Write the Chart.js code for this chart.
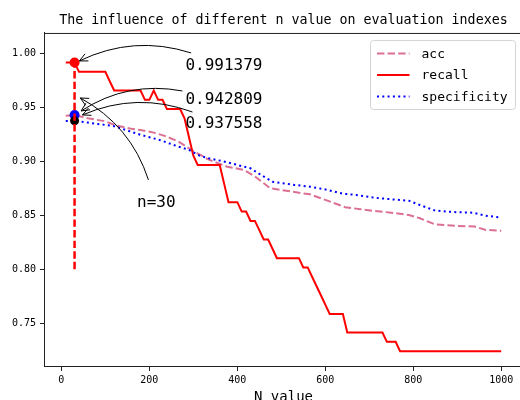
<!DOCTYPE html>
<html><head><meta charset="utf-8">
<script src="https://cdn.jsdelivr.net/npm/chart.js@4"></script>
<style>
html,body{margin:0;padding:0;background:#fff;overflow:hidden;}
#wrap{width:530px;height:400px;}
</style></head><body>
<div id="wrap"><canvas id="c" width="530" height="400"></canvas></div>
<script>
const titleText = 'The influence of different n value on evaluation indexes';
const xLabel = 'N value';
const xTicks = [0, 200, 400, 600, 800, 1000];
const yTicks = [0.75, 0.80, 0.85, 0.90, 0.95, 1.00];

const accN = [10,30,60,100,125,160,180,210,235,265,290,300,335,377,415,440,475,515,545,565,605,645,680,710,750,790,815,850,900,940,965,1000];
const accValues = [0.9422,0.9428,0.9398,0.9370,0.9330,0.9300,0.9290,0.9265,0.9235,0.9185,0.9120,0.9095,0.9015,0.8950,0.8920,0.8860,0.8750,0.8725,0.8704,0.8694,0.8635,0.8575,0.8556,0.8540,0.8524,0.8503,0.8472,0.8415,0.8401,0.8395,0.8364,0.8357];

const recallN = [10,30,40,100,110,120,180,190,200,210,220,230,240,270,280,290,300,310,360,370,380,400,410,420,430,440,450,460,470,480,490,540,550,560,570,580,590,600,610,640,650,730,740,760,770,1000];
const recallValues = [0.9914,0.9914,0.9828,0.9828,0.9741,0.9655,0.9655,0.9569,0.9569,0.9655,0.9569,0.9569,0.9483,0.9483,0.9397,0.9224,0.9052,0.8966,0.8966,0.8793,0.8621,0.8621,0.8534,0.8534,0.8448,0.8448,0.8362,0.8276,0.8276,0.8190,0.8103,0.8103,0.8017,0.8017,0.7931,0.7845,0.7759,0.7672,0.7586,0.7586,0.7414,0.7414,0.7328,0.7328,0.7241,0.7241];

const specN = [10,30,60,120,150,180,225,263,290,315,335,375,415,430,455,480,530,565,605,640,670,710,750,790,815,850,900,935,965,1000];
const specValues = [0.9373,0.9376,0.9358,0.9325,0.9285,0.9245,0.9195,0.9140,0.9105,0.9050,0.9028,0.8993,0.8950,0.8935,0.8870,0.8810,0.8781,0.8765,0.8735,0.8700,0.8688,0.8663,0.8648,0.8635,0.8595,0.8543,0.8528,0.8524,0.8496,0.8478];

const bestN = 30;
const bestRecall = 0.991379;
const bestAcc = 0.942809;
const bestSpec = 0.937558;
const markerLineBottom = 0.80;

const annoLabels = ['0.991379', '0.942809', '0.937558', 'n=30'];
const annoTextN = [282, 282, 282, 172];
const annoTextV = [0.9845, 0.9531, 0.9306, 0.858];
const annoStartN = [295, 275, 298, 198];
const annoStartV = [1.0003, 0.9651, 0.9456, 0.8827];
const annoEndN = [41, 45, 48, 43];
const annoEndV = [0.9929, 0.9466, 0.9429, 0.9586];

const MONO = '"DejaVu Sans Mono", "Liberation Mono", monospace';
const pts = (xs, ys) => xs.map((x, i) => ({x: x, y: ys[i]}));

const decor = {
  id: 'decor',
  afterDatasetsDraw(chart) {
    const ctx = chart.ctx, xs = chart.scales.x, ys = chart.scales.y;
    ctx.save();
    ctx.strokeStyle = '#000'; ctx.fillStyle = '#000'; ctx.lineWidth = 1;
    for (let i = 0; i < annoLabels.length; i++) {
      const sx = xs.getPixelForValue(annoStartN[i]), sy = ys.getPixelForValue(annoStartV[i]);
      const ex = xs.getPixelForValue(annoEndN[i]), ey = ys.getPixelForValue(annoEndV[i]);
      const dx = ex - sx, dy = ey - sy, rad = 0.2;
      const cx = (sx + ex) / 2 - rad * dy, cy = (sy + ey) / 2 + rad * dx;
      ctx.beginPath(); ctx.moveTo(sx, sy); ctx.quadraticCurveTo(cx, cy, ex, ey); ctx.stroke();
      const ang = Math.atan2(ey - cy, ex - cx), L = 9, a = 0.45;
      ctx.beginPath();
      ctx.moveTo(ex - L * Math.cos(ang - a), ey - L * Math.sin(ang - a));
      ctx.lineTo(ex, ey);
      ctx.lineTo(ex - L * Math.cos(ang + a), ey - L * Math.sin(ang + a));
      ctx.stroke();
      ctx.font = '16px ' + MONO; ctx.textBaseline = 'alphabetic'; ctx.textAlign = 'left';
      ctx.fillText(annoLabels[i], xs.getPixelForValue(annoTextN[i]), ys.getPixelForValue(annoTextV[i]));
    }
    ctx.restore();
  },
  afterDraw(chart) {
    const ctx = chart.ctx, ca = chart.chartArea;
    ctx.save();
    ctx.strokeStyle = '#222'; ctx.lineWidth = 1;
    ctx.beginPath();
    ctx.moveTo(ca.left, ca.top + 0.5); ctx.lineTo(ca.right, ca.top + 0.5);
    ctx.moveTo(ca.right - 0.5, ca.top); ctx.lineTo(ca.right - 0.5, ca.bottom);
    ctx.stroke();
    // legend
    const bx = ca.right - 152.5, by = ca.top + 7.5, bw = 145, bh = 69, r = 3;
    ctx.beginPath();
    ctx.moveTo(bx + r, by); ctx.lineTo(bx + bw - r, by); ctx.arcTo(bx + bw, by, bx + bw, by + r, r);
    ctx.lineTo(bx + bw, by + bh - r); ctx.arcTo(bx + bw, by + bh, bx + bw - r, by + bh, r);
    ctx.lineTo(bx + r, by + bh); ctx.arcTo(bx, by + bh, bx, by + bh - r, r);
    ctx.lineTo(bx, by + r); ctx.arcTo(bx, by, bx + r, by, r); ctx.closePath();
    ctx.fillStyle = 'rgba(255,255,255,0.85)'; ctx.fill();
    ctx.strokeStyle = '#d4d4d4'; ctx.stroke();
    const items = chart.data.datasets.filter(d => d.inLegend);
    items.forEach((d, i) => {
      const yy = by + 13 + i * 21.5;
      ctx.beginPath();
      ctx.strokeStyle = d.borderColor; ctx.lineWidth = d.borderWidth;
      ctx.setLineDash(d.borderDash || []);
      ctx.moveTo(bx + 6.5, yy); ctx.lineTo(bx + 39, yy); ctx.stroke();
      ctx.setLineDash([]);
      ctx.fillStyle = '#000'; ctx.font = '13px ' + MONO; ctx.textBaseline = 'alphabetic';
      ctx.fillText(d.label, bx + 51, yy + 4.5);
    });
    ctx.restore();
  }
};

new Chart(document.getElementById('c'), {
  type: 'line',
  data: {
    datasets: [
      {label: 'red dot', data: [{x: bestN, y: bestRecall}], showLine: false, pointRadius: 5, pointBackgroundColor: '#ff0000', pointBorderWidth: 0, borderColor: '#ff0000', order: 0},
      {label: 'n line', data: [{x: bestN, y: markerLineBottom}, {x: bestN, y: bestRecall}], borderColor: '#ff0000', borderWidth: 2.5, borderDash: [7.4, 3.2], pointRadius: 0, order: 1},
      {label: 'spec dot', data: [{x: bestN, y: bestSpec}], showLine: false, pointRadius: 4.5, pointBackgroundColor: '#000000', pointBorderWidth: 0, borderColor: '#000', order: 2},
      {label: 'acc dot', data: [{x: bestN, y: bestAcc}], showLine: false, pointRadius: 5, pointBackgroundColor: '#0000ff', pointBorderWidth: 0, borderColor: '#00f', order: 3},
      {label: 'acc', inLegend: true, data: pts(accN, accValues), borderColor: '#db7093', borderWidth: 2, borderDash: [7.4, 3.2], pointRadius: 0, tension: 0, order: 6},
      {label: 'recall', inLegend: true, data: pts(recallN, recallValues), borderColor: '#ff0000', borderWidth: 2, pointRadius: 0, tension: 0, order: 5},
      {label: 'specificity', inLegend: true, data: pts(specN, specValues), borderColor: '#0000ff', borderWidth: 2, borderDash: [2, 3.3], pointRadius: 0, tension: 0, order: 4}
    ]
  },
  options: {
    responsive: false,
    animation: false,
    events: [],
    layout: {padding: {left: 0, right: 7, top: 0, bottom: 0}},
    plugins: {
      legend: {display: false},
      tooltip: {enabled: false},
      title: {
        display: true, text: titleText, fullSize: false, color: '#000',
        font: {family: MONO, size: 13.3, weight: 'normal', lineHeight: 1.2},
        padding: {top: 13, bottom: 4}
      }
    },
    scales: {
      x: {
        type: 'linear', min: -39.5, max: 1049.5,
        afterFit: s => { s.height = 33; },
        afterBuildTicks: s => { s.ticks = xTicks.map(v => ({value: v})); },
        grid: {drawOnChartArea: false, drawTicks: true, tickLength: 4, tickColor: '#222'},
        border: {display: true, color: '#222', width: 1},
        ticks: {color: '#000', font: {family: MONO, size: 10}, padding: 3, maxRotation: 0, autoSkip: false, callback: v => String(v)},
        title: {display: true, text: xLabel, color: '#000', font: {family: MONO, size: 14, lineHeight: 0.75}, padding: {top: 0, bottom: -3}}
      },
      y: {
        type: 'linear', min: 0.7095, max: 1.0188,
        afterFit: s => { s.width = 44; },
        afterBuildTicks: s => { s.ticks = yTicks.map(v => ({value: v})); },
        grid: {drawOnChartArea: false, drawTicks: true, tickLength: 4, tickColor: '#222'},
        border: {display: true, color: '#222', width: 1},
        ticks: {color: '#000', font: {family: MONO, size: 10}, padding: 4, autoSkip: false, callback: v => Number(v).toFixed(2)}
      }
    }
  },
  plugins: [decor]
});
</script>
</body></html>
